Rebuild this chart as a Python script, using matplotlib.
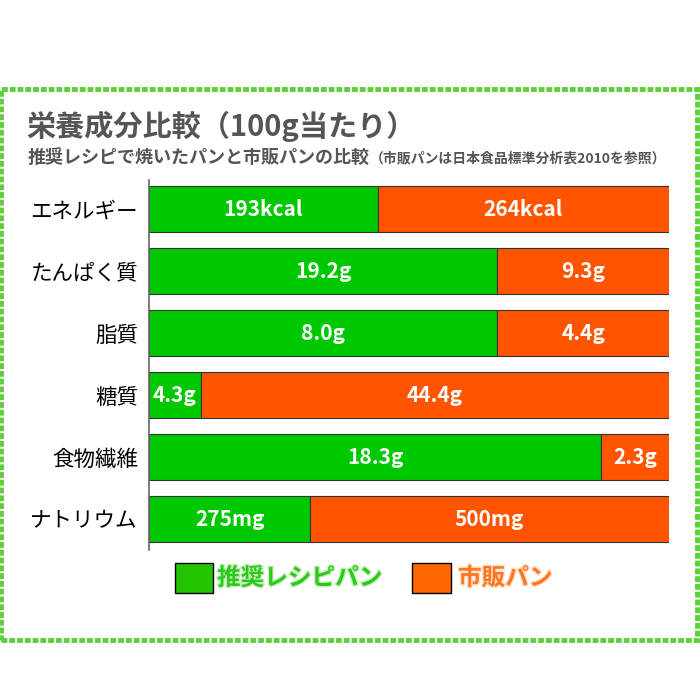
import matplotlib
matplotlib.use("Agg")
import matplotlib.pyplot as plt
import matplotlib.patheffects as pe
from matplotlib.patches import Rectangle

plt.rcParams['font.family'] = ['Noto Sans CJK JP', 'DejaVu Sans']

# nutrients, top to bottom
categories = ["エネルギー", "たんぱく質", "脂質", "糖質", "食物繊維", "ナトリウム"]
recipe_labels = ["193kcal", "19.2g", "8.0g", "4.3g", "18.3g", "275mg"]
store_labels = ["264kcal", "9.3g", "4.4g", "44.4g", "2.3g", "500mg"]
# share of each bar taken by the recipe bread (%)
recipe_share = [44, 67, 67, 10, 87, 31]
store_share = [56, 33, 33, 90, 13, 69]

legend_names = ["推奨レシピパン", "市販パン"]
green = "#00c800"
orange = "#ff5500"

fig = plt.figure(figsize=(7, 7), dpi=100)
fig.patch.set_facecolor("white")

# grassy frame
frame = Rectangle((0.002, 1 - 640 / 700), 0.993, 551 / 700, transform=fig.transFigure,
                  fill=False, edgecolor="#5ccf3a", linewidth=3.5, linestyle=(0, (1.2, 0.4)))
fig.patches.append(frame)

fig.text(26 / 700, 1 - 126 / 700, "栄養成分比較（100g当たり）", fontsize=21,
         fontweight="bold", color="#555555", va="center", ha="left")
fig.text(28 / 700, 1 - 157 / 700, "推奨レシピで焼いたパンと市販パンの比較", fontsize=13,
         fontweight="bold", color="#555555", va="center", ha="left")
fig.text(370 / 700, 1 - 158 / 700, "（市販パンは日本食品標準分析表2010を参照）", fontsize=10,
         fontweight="bold", color="#555555", va="center", ha="left")

ax = fig.add_axes([149 / 700, 1 - 550 / 700, 520 / 700, 370 / 700])
pos = list(range(len(categories)))
ax.barh(pos, recipe_share, height=0.74, color=green, edgecolor="#333333", linewidth=0.8)
ax.barh(pos, store_share, left=recipe_share, height=0.74, color=orange,
        edgecolor="#333333", linewidth=0.8)

for i in pos:
    ax.text(recipe_share[i] / 2, i, recipe_labels[i], ha="center", va="center",
            color="white", fontsize=15, fontweight="bold")
    ax.text(recipe_share[i] + store_share[i] / 2, i, store_labels[i], ha="center",
            va="center", color="white", fontsize=15, fontweight="bold")

ax.set_xlim(0, 100)
ax.set_ylim(5.5, -0.47)
ax.set_yticks(pos)
ax.set_yticklabels(categories, fontsize=15.5)
ax.tick_params(axis="y", length=0, pad=8)
ax.set_xticks([])
for s in ["top", "right", "bottom"]:
    ax.spines[s].set_visible(False)
ax.spines["left"].set_color("#666666")
ax.spines["left"].set_linewidth(1.2)

# legend
fig.patches.append(Rectangle((175 / 700, 1 - 593 / 700), 38 / 700, 30 / 700,
                             transform=fig.transFigure, facecolor="#22c400",
                             edgecolor="black", linewidth=1))
fig.text(217 / 700, 1 - 578 / 700, legend_names[0], fontsize=17, fontweight="bold",
         color="#2bc81e", va="center", ha="left",
         path_effects=[pe.withStroke(linewidth=2, foreground="#c8f0b8")])
fig.patches.append(Rectangle((412 / 700, 1 - 593 / 700), 39 / 700, 30 / 700,
                             transform=fig.transFigure, facecolor="#ff6600",
                             edgecolor="black", linewidth=1))
fig.text(458 / 700, 1 - 578 / 700, legend_names[1], fontsize=17, fontweight="bold",
         color="#ff7722", va="center", ha="left",
         path_effects=[pe.withStroke(linewidth=2, foreground="#ffe0c8")])

fig.savefig("out.png", dpi=100, facecolor="white")
